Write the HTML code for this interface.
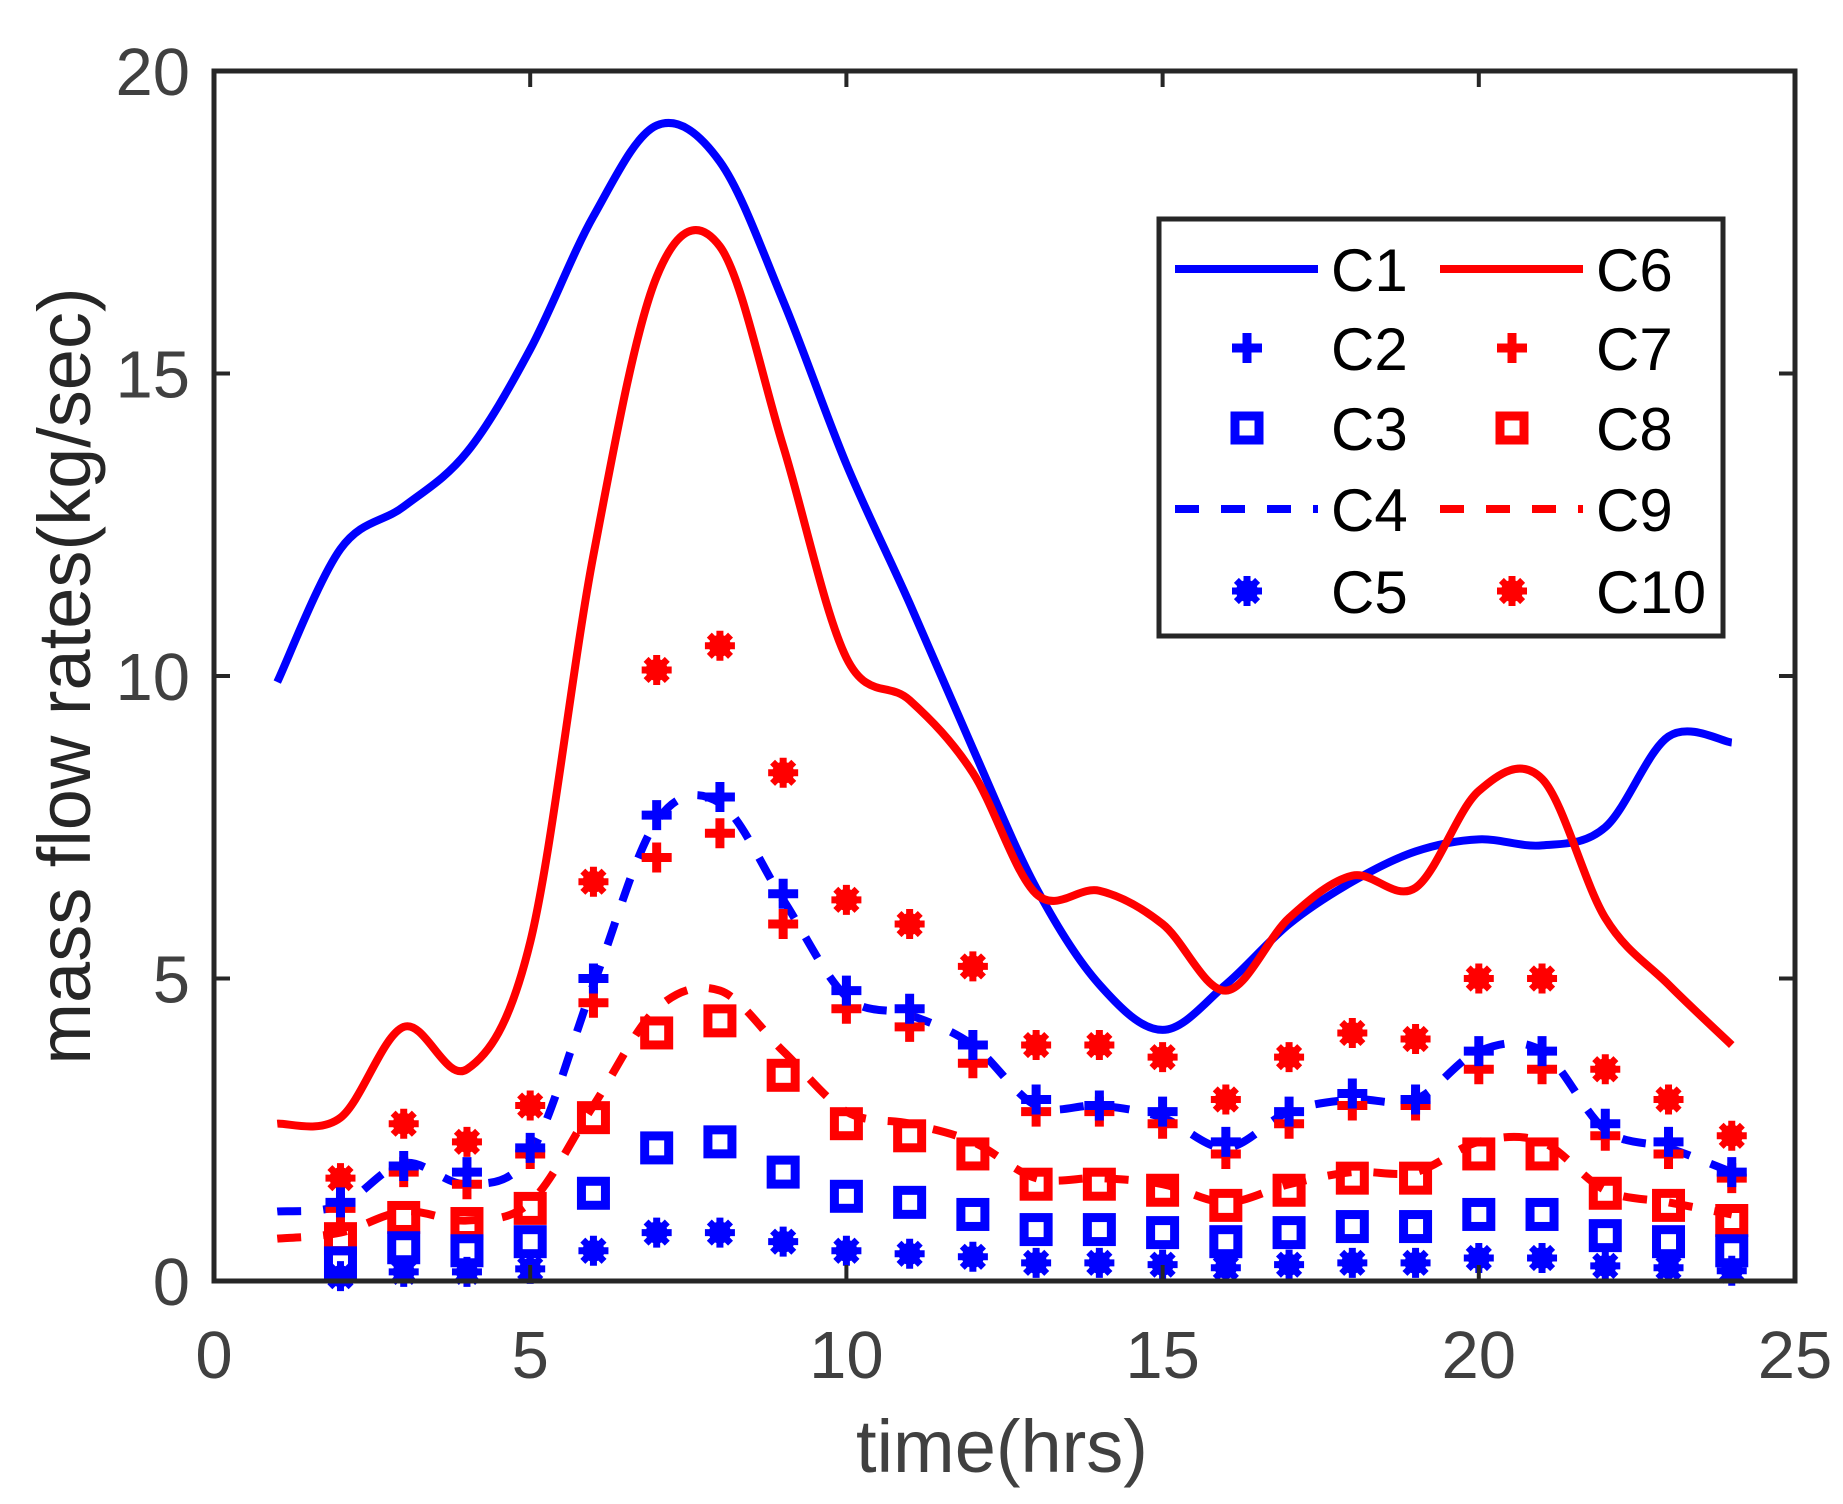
<!DOCTYPE html>
<html><head><meta charset="utf-8"><style>
html,body{margin:0;padding:0;background:#fff;}
svg{display:block;font-family:"Liberation Sans",Arial,sans-serif;}
</style></head><body>
<svg id="chart" width="1843" height="1504" viewBox="0 0 1843 1504" xmlns="http://www.w3.org/2000/svg">
<g id="plot"></g>
</svg>
<script>
const hoursLine = [1,2,3,4,5,6,7,8,9,10,11,12,13,14,15,16,17,18,19,20,21,22,23,24];
const hoursMark = [2,3,4,5,6,7,8,9,10,11,12,13,14,15,16,17,18,19,20,21,22,23,24];
const c1 = [9.9,12.1,12.8,13.7,15.4,17.6,19.1,18.5,16.2,13.5,11.2,8.8,6.5,4.9,4.15,4.9,5.9,6.6,7.1,7.3,7.2,7.5,9.0,8.9];
const c6 = [2.6,2.7,4.2,3.5,5.6,12.0,16.6,17.1,13.8,10.3,9.6,8.4,6.4,6.45,5.9,4.8,6.0,6.7,6.5,8.1,8.3,6.0,4.9,3.9];
const c4 = [1.15,1.25,1.95,1.6,2.1,4.9,7.6,7.9,6.3,4.7,4.4,3.9,2.9,2.9,2.7,2.2,2.8,3.0,3.0,3.8,3.8,2.5,2.2,1.8];
const c9 = [0.7,0.8,1.15,1.0,1.3,2.9,4.5,4.8,3.8,2.8,2.6,2.3,1.7,1.7,1.6,1.3,1.6,1.8,1.8,2.3,2.3,1.5,1.3,1.1];
const c2 = [1.3,1.9,1.8,2.2,5.0,7.7,8.0,6.4,4.8,4.5,3.9,3.0,2.9,2.8,2.3,2.8,3.1,3.0,3.8,3.8,2.6,2.3,1.8];
const c7 = [1.2,1.8,1.6,2.1,4.6,7.0,7.4,5.9,4.5,4.2,3.6,2.8,2.8,2.6,2.1,2.6,2.9,2.9,3.5,3.5,2.4,2.1,1.7];
const c3 = [0.3,0.55,0.5,0.65,1.45,2.2,2.3,1.8,1.4,1.3,1.1,0.85,0.85,0.8,0.65,0.8,0.9,0.9,1.1,1.1,0.75,0.65,0.5];
const c8 = [0.7,1.05,0.95,1.2,2.7,4.1,4.3,3.4,2.6,2.4,2.1,1.6,1.6,1.5,1.25,1.5,1.7,1.7,2.1,2.1,1.45,1.25,1.0];
const c5 = [0.08,0.15,0.15,0.2,0.5,0.8,0.8,0.65,0.5,0.45,0.4,0.3,0.3,0.27,0.22,0.27,0.3,0.3,0.38,0.38,0.25,0.22,0.17];
const c10 = [1.7,2.6,2.3,2.9,6.6,10.1,10.5,8.4,6.3,5.9,5.2,3.9,3.9,3.7,3.0,3.7,4.1,4.0,5.0,5.0,3.5,3.0,2.4];
const xTicks = [0,5,10,15,20,25];
const yTicks = [0,5,10,15,20];

const NS='http://www.w3.org/2000/svg';
const L=214,R=1795,T=71,B=1281;
const xs=v=>L+(v/25)*(R-L);
const ys=v=>B-(v/20)*(B-T);
const plot=document.getElementById('plot');
function mk(tag,attrs,parent){const e=document.createElementNS(NS,tag);for(const k in attrs)e.setAttribute(k,attrs[k]);(parent||plot).appendChild(e);return e;}
function smooth(xv,yv){
  const p=xv.map((x,i)=>[xs(x),ys(yv[i])]);
  let d='M'+p[0][0]+','+p[0][1];
  for(let i=0;i<p.length-1;i++){
    const p0=p[i-1]||p[i],p1=p[i],p2=p[i+1],p3=p[i+2]||p2;
    const c1x=p1[0]+(p2[0]-p0[0])/6,c1y=p1[1]+(p2[1]-p0[1])/6;
    const c2x=p2[0]-(p3[0]-p1[0])/6,c2y=p2[1]-(p3[1]-p1[1])/6;
    d+=' C'+c1x+','+c1y+' '+c2x+','+c2y+' '+p2[0]+','+p2[1];
  }
  return d;
}
function plus(g,x,y,c){mk('path',{d:`M${x-15},${y}H${x+15}M${x},${y-15}V${y+15}`,stroke:c,'stroke-width':9,fill:'none'},g);}
function square(g,x,y,c){mk('rect',{x:x-12,y:y-12,width:24,height:24,stroke:c,'stroke-width':9,fill:'none'},g);}
function star(g,x,y,c){
  mk('circle',{cx:x,cy:y,r:11,fill:c},g);
  let d='';for(let a=0;a<180;a+=45){const r=a*Math.PI/180,dx=15*Math.cos(r),dy=15*Math.sin(r);d+=`M${x-dx},${y-dy}L${x+dx},${y+dy}`;}
  mk('path',{d,stroke:c,'stroke-width':7,fill:'none'},g);
}
const axes=mk('g',{});


xTicks.forEach(t=>{const x=xs(t);
  mk('path',{d:`M${x},${B}V${B-16}M${x},${T}V${T+16}`,stroke:'#262626','stroke-width':4},axes);
  const tx=mk('text',{x:x,y:1378,'font-size':67,fill:'#404040','text-anchor':'middle'},axes);tx.textContent=t;
  
  
});
yTicks.forEach(t=>{const y=ys(t);
  mk('path',{d:`M${L},${y}H${L+16}M${R},${y}H${R-16}`,stroke:'#262626','stroke-width':4},axes);
  const tx=mk('text',{x:190,y:y+24,'font-size':67,fill:'#404040','text-anchor':'end'},axes);tx.textContent=t;
  
  
});
function lineSeries(name,xv,yv,c,dash){
  const g=mk('g',{});
  
  
  const a={d:smooth(xv,yv),stroke:c,'stroke-width':8,fill:'none'};
  if(dash)a['stroke-dasharray']=dash;
  mk('path',a,g);
}
function markSeries(name,yv,c,fn){
  const g=mk('g',{});
  
  
  yv.forEach((v,i)=>fn(g,xs(hoursMark[i]),ys(v),c));
}
const BL='#0000ff',RD='#ff0000';
lineSeries('series-c1',hoursLine,c1,BL);
lineSeries('series-c6',hoursLine,c6,RD);
lineSeries('series-c4',hoursLine,c4,BL,'24,22');
lineSeries('series-c9',hoursLine,c9,RD,'24,22');
markSeries('series-c10',c10,RD,star);
markSeries('series-c7',c7,RD,plus);
markSeries('series-c2',c2,BL,plus);
markSeries('series-c8',c8,RD,square);
markSeries('series-c3',c3,BL,square);
markSeries('series-c5',c5,BL,star);
mk('rect',{x:L,y:T,width:R-L,height:B-T,fill:'none',stroke:'#262626','stroke-width':5},axes);
plot.appendChild(axes);
const xt=mk('text',{x:1002,y:1472,'font-size':74,fill:'#404040','text-anchor':'middle'});xt.textContent='time(hrs)';


const yt=mk('text',{x:0,y:0,'font-size':74,fill:'#262626','text-anchor':'middle',transform:'translate(90,676) rotate(-90)'});yt.textContent='mass flow rates(kg/sec)';


const lg=mk('g',{});


mk('rect',{x:1159,y:219,width:564,height:417,fill:'#fff',stroke:'#262626','stroke-width':5},lg);
const legNames=[['C1','C6'],['C2','C7'],['C3','C8'],['C4','C9'],['C5','C10']];
const rowsY=[269,348,428,509,591];
rowsY.forEach((y,r)=>{
  [[1175,BL],[1440,RD]].forEach(([x0,c],k)=>{
    const e=mk('g',{},lg);
    
    
    const mx=x0+72;
    if(r===0)mk('path',{d:`M${x0},${y}H${x0+143}`,stroke:c,'stroke-width':8},e);
    if(r===3)mk('path',{d:`M${x0},${y}H${x0+143}`,stroke:c,'stroke-width':8,'stroke-dasharray':'24,22'},e);
    if(r===1)plus(e,mx,y,c);
    if(r===2)square(e,mx,y,c);
    if(r===4)star(e,mx,y,c);
    const t=mk('text',{x:x0+156,y:y+22,'font-size':60,fill:'#000'},e);t.textContent=legNames[r][k];
  });
});
</script>
</body></html>
